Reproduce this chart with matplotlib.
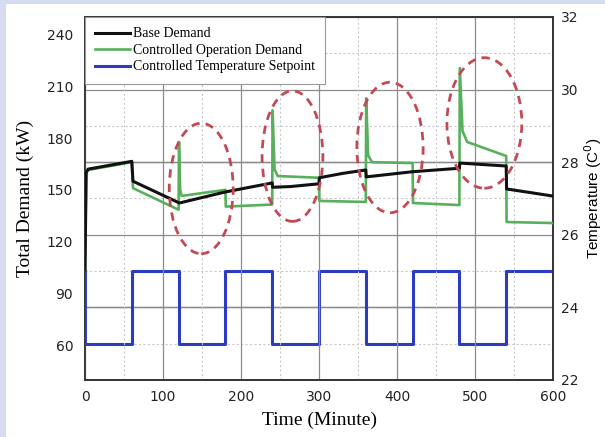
import numpy as np
import matplotlib
matplotlib.use("Agg")
import matplotlib.pyplot as plt
from matplotlib.patches import Ellipse, Rectangle
from matplotlib.ticker import MultipleLocator

# ---------------- data ----------------
base_t = [0, 1.5, 4, 60, 61.5, 121, 180, 240, 240.5, 263, 300, 300.5, 330, 360, 360.5,
          420, 480, 480.5, 540, 540.5, 570, 600]
base_kw = [104, 160, 162, 166.5, 155, 142.4, 148.8, 154, 151.5, 151.9, 153.5, 157, 159.5, 161.5, 157.5,
           160.5, 162.5, 165.5, 163.8, 150.5, 148.5, 146.4]

ctrl_t = [0, 1.5, 4, 60, 61.5, 120, 120.5, 122, 124, 180, 180.5, 240, 240.5, 243, 247,
          300, 300.5, 360, 360.5, 363, 368, 420, 420.5, 480, 480.5, 484, 490, 540, 540.5, 600]
ctrl_kw = [104, 160, 161.5, 166, 151, 138.5, 177.7, 150, 146.5, 150, 140.3, 141.5, 196, 162, 158,
           157, 143.6, 143, 203, 170, 166, 165.5, 142.4, 141.2, 220.5, 184, 177.7, 169.6, 131.4, 130.8]

setpoint_start = [0, 60, 120, 180, 240, 300, 360, 420, 480, 540]
setpoint_c = [23, 25, 23, 25, 23, 25, 23, 25, 23, 25]
setpoint_initial = 25
t_end = 600

# highlighted regions (centre time, centre kW, width min, height kW)
ell_t = [149, 266, 391, 512]
ell_kw = [150.8, 169.5, 174.5, 188.7]
ell_w = [82, 78, 85, 96]
ell_h = [75.5, 75.5, 75.5, 75.5]

xticks = [0, 100, 200, 300, 400, 500, 600]
kw_ticks = [60, 90, 120, 150, 180, 210, 240]
temp_ticks = [22, 24, 26, 28, 30, 32]

# ---------------- figure ----------------
W, H = 605, 437
fig = plt.figure(figsize=(W / 100, H / 100), dpi=100, facecolor="#d6dbef")
fig.add_artist(Rectangle((6 / W, 0), 1, 1 - 4 / H, transform=fig.transFigure,
                         facecolor="white", edgecolor="none", zorder=0))

ax = fig.add_axes([85 / W, 1 - 380 / H, (553 - 85) / W, (380 - 17) / H])
ax2 = ax.twinx()
ax.set_zorder(ax2.get_zorder() + 1)
ax.patch.set_visible(False)

serif = "Liberation Serif"
tickfont = "DejaVu Sans"

green = "#58b05c"
blue = "#2b3cc0"
black = "#111111"

# setpoint (right axis)
st = [0] + setpoint_start + [t_end]
sv = [setpoint_initial] + setpoint_c + [setpoint_c[-1]]
l3, = ax2.step(st, sv, where="post", color=blue, lw=2.2, zorder=3,
               label="Controlled Temperature Setpoint")

# demand (left axis)
l2, = ax.plot(ctrl_t, ctrl_kw, color=green, lw=1.9, zorder=3, label="Controlled Operation Demand")
l1, = ax.plot(base_t, base_kw, color=black, lw=2.2, zorder=4, label="Base Demand")

for cx, cy, w, h in zip(ell_t, ell_kw, ell_w, ell_h):
    ax.add_patch(Ellipse((cx, cy), w, h, fill=False, edgecolor="#c24a55",
                         lw=2.0, linestyle=(0, (3, 2.2)), zorder=5))

# axes limits and ticks
ax.set_xlim(0, 600)
ax.set_ylim(40, 250)
ax2.set_ylim(22, 32)
ax.set_xticks(xticks)
ax.xaxis.set_minor_locator(MultipleLocator(50))
ax.set_yticks(kw_ticks)
ax2.set_yticks(temp_ticks)
ax2.yaxis.set_minor_locator(MultipleLocator(1))

# grid: horizontal from the temperature axis, vertical from the time axis
ax.set_axisbelow(True)
ax2.grid(which="major", axis="y", color="#8c8c8c", lw=0.9)
ax2.grid(which="minor", axis="y", color="#c9c9c9", lw=0.8, linestyle=(0, (2, 2)))
ax.grid(which="major", axis="x", color="#8c8c8c", lw=0.9)
ax.grid(which="minor", axis="x", color="#c9c9c9", lw=0.8, linestyle=(0, (2, 2)))
for v in [24, 28]:
    ax2.axhline(v, color="#4d4d4d", lw=0.9, zorder=1)

for a in (ax, ax2):
    for s in a.spines.values():
        s.set_color("#333333")
        s.set_linewidth(1.2)
ax.tick_params(axis="both", which="both", direction="in", length=0, labelsize=10)
ax.tick_params(axis="y", pad=8.5)
ax.tick_params(axis="x", pad=7)
ax2.tick_params(axis="y", which="both", direction="in", length=0, labelsize=10, pad=5.5)
for lab in ax.get_xticklabels() + ax.get_yticklabels() + ax2.get_yticklabels():
    lab.set_fontfamily(tickfont)
    lab.set_color("#222222")

ax.set_xlabel("Time (Minute)", fontfamily=serif, fontsize=14, labelpad=6)
ax.set_ylabel("Total Demand (kW)", fontfamily=serif, fontsize=14, labelpad=9)
ax2.set_ylabel("Temperature (C$^0$)", fontfamily="Liberation Sans", fontsize=11, labelpad=3)

leg = ax.legend(handles=[l1, l2, l3], loc="upper left", bbox_to_anchor=(0, 1),
                borderaxespad=0, prop={"family": serif, "size": 10}, frameon=True,
                fancybox=False, edgecolor="#999999", framealpha=1, handlelength=2.5,
                handletextpad=0.2, labelspacing=0.25, borderpad=0.75)
leg.get_frame().set_linewidth(0.8)
leg.set_zorder(10)

fig.savefig("out.png", dpi=100, facecolor=fig.get_facecolor())
